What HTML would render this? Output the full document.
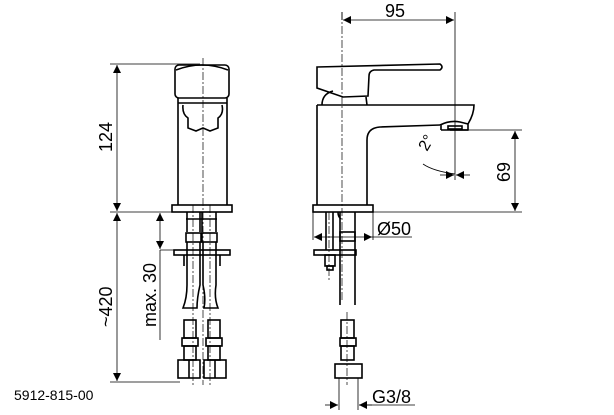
<!DOCTYPE html>
<html><head><style>html,body{margin:0;padding:0;background:#fff}svg{display:block}text{font-family:"Liberation Sans",sans-serif;fill:#000}</style></head><body>
<svg width="614" height="415" viewBox="0 0 614 415" xmlns="http://www.w3.org/2000/svg">
<defs>
<marker id="a" viewBox="0 0 10 10" refX="10" refY="5" markerWidth="15" markerHeight="8" markerUnits="userSpaceOnUse" orient="auto-start-reverse"><path d="M0,0L10,5L0,10z" fill="#000"/></marker>
</defs>
<g stroke="#000" fill="none" stroke-width="1.6">
<!-- LEFT VIEW -->
<rect x="175" y="65" width="54" height="33" rx="4"/>
<path d="M176,70 Q202,60 228,70"/>
<path d="M178,98 V205 M227,98 V205 M178,103 H227"/>
<path d="M183,105 Q182,114 188,118 V128 L196,131 L203,128 L210,131 L218,128 V118 Q224,114 222,105"/>
<rect x="172" y="205" width="60" height="7"/>
<path d="M187,212 V232 M200,212 V232 M202,212 V232 M216,212 V232 M186,219 H217"/>
<rect x="186" y="233" width="15" height="9"/><rect x="202" y="233" width="15" height="9"/>
<path d="M187,242 V285 Q187,298 183,308 H197 Q197,298 200,285 V242"/>
<path d="M203,242 V285 Q206,298 204,308 H218 Q214,298 216,285 V242"/>
<rect x="174" y="250" width="56" height="5"/>
<path d="M184,255 V266 M220,255 V266"/>
<rect x="184" y="320" width="12" height="18"/><rect x="182" y="338" width="16" height="8"/><rect x="184" y="346" width="12" height="14"/>
<rect x="178" y="360" width="22" height="18"/><path d="M189,360V378"/>
<rect x="208" y="320" width="12" height="18"/><rect x="206" y="338" width="16" height="8"/><rect x="208" y="346" width="12" height="14"/>
<rect x="204" y="360" width="22" height="18"/><path d="M215,360V378"/>
<!-- RIGHT VIEW -->
<path d="M317,67 L440,64 Q444,67 440,70 L374,70 Q369,71 369,76 L368,96 L343,97 L317,88 Z"/>
<path d="M322,105 Q322,94 333,91 M366,97 L367,105"/>
<path d="M317,105 H474 Q474,114 468,124 L468,130 H450"/>
<path d="M317,105 V205 M367,205 V140 Q367,128 380,127 L440,125"/>
<path d="M440,125 Q450,120 460,122 L468,124 M441,130 H468 M441,125 L441,130"/>
<rect x="448" y="126" width="14" height="3"/>
<rect x="313" y="205" width="60" height="7"/>
<path d="M340,212 V305 M355,212 V305 M338,212 Q338,217 341,219"/>
<rect x="340" y="232" width="15" height="9"/>
<rect x="314" y="250" width="42" height="5"/>
<rect x="325" y="255" width="10" height="11"/><rect x="327" y="266" width="6" height="4"/>
<path d="M326,212 V250 M333,212 V250"/>
<rect x="341" y="320" width="13" height="18"/><rect x="340" y="338" width="16" height="8"/><rect x="341" y="346" width="13" height="14"/>
<rect x="335" y="364" width="27" height="14"/>
</g>
<g stroke="#000" stroke-width="0.7" stroke-dasharray="8,2,2,2" fill="none">
<path d="M203,58 V385"/><path d="M193,205 V385"/><path d="M210,205 V385"/>
<path d="M342,12 V300"/><path d="M347,312 V385"/><path d="M329,212 V280"/>
</g>
<g stroke="#000" stroke-width="0.8" fill="none">
<path d="M110,64 H200 M110,212 H172 M110,382 H180"/>
<path d="M117,65 V211" marker-start="url(#a)" marker-end="url(#a)"/>
<path d="M117,213 V381" marker-start="url(#a)" marker-end="url(#a)"/>
<path d="M160,213 V249" marker-start="url(#a)" marker-end="url(#a)"/>
<path d="M160,250 V340 M160,250 H178"/>
<path d="M342,12 V20 M455,12 V180"/>
<path d="M343,20 H454" marker-start="url(#a)" marker-end="url(#a)"/>
<path d="M460,130 H522 M373,212 H522"/>
<path d="M515,131 V211" marker-start="url(#a)" marker-end="url(#a)"/>
<path d="M313,212 V240 M373,212 V240"/>
<path d="M314,237 H372" marker-start="url(#a)" marker-end="url(#a)"/>
<path d="M372,237 H412"/>
<path d="M339,378 V410 M358,378 V410"/>
<path d="M325,405 H338" marker-end="url(#a)"/><path d="M372,405 H359" marker-end="url(#a)"/>
<path d="M359,405 H415"/>
<path d="M423,164 Q433,171 455,174"/>
<path d="M440,175 H454" marker-end="url(#a)"/><path d="M470,175 H456" marker-end="url(#a)"/>
</g>
<g font-size="18">
<text x="385" y="17">95</text>
<text transform="translate(112,152) rotate(-90)">124</text>
<text transform="translate(112,327) rotate(-90)">~420</text>
<text transform="translate(156,327) rotate(-90)">max. 30</text>
<text transform="translate(510,182) rotate(-90)">69</text>
<text x="377" y="235">Ø50</text>
<text x="372" y="403">G3/8</text>
<text transform="translate(427,152) rotate(-60)" font-size="16">2°</text>
</g>
<text x="14" y="400" font-size="14">5912-815-00</text>
</svg>
</body></html>
